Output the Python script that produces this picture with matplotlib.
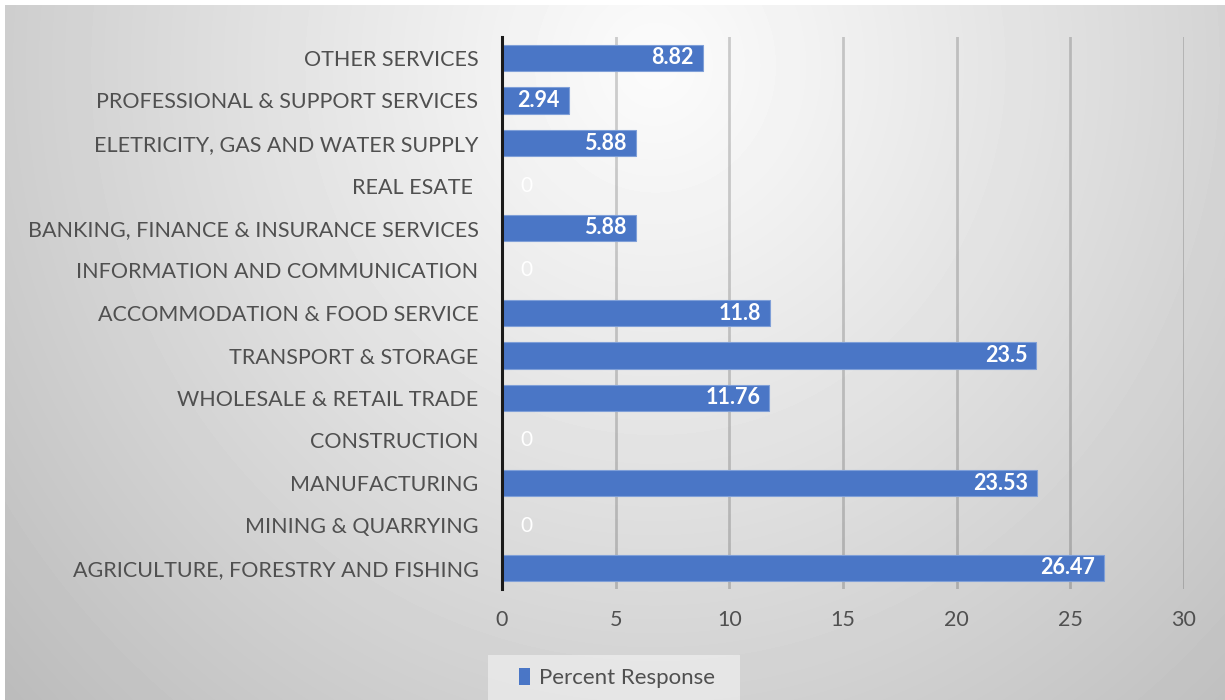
import numpy as np
import matplotlib
matplotlib.use("Agg")
import matplotlib.pyplot as plt
from matplotlib.patches import Rectangle

# sectors listed bottom to top
sectors = [
    "AGRICULTURE, FORESTRY AND FISHING",
    "MINING & QUARRYING",
    "MANUFACTURING",
    "CONSTRUCTION",
    "WHOLESALE & RETAIL TRADE",
    "TRANSPORT & STORAGE",
    "ACCOMMODATION & FOOD SERVICE",
    "INFORMATION AND COMMUNICATION",
    "BANKING, FINANCE & INSURANCE SERVICES",
    "REAL ESATE ",
    "ELETRICITY, GAS AND WATER SUPPLY",
    "PROFESSIONAL & SUPPORT SERVICES",
    "OTHER SERVICES",
]
percent = [26.47, 0, 23.53, 0, 11.76, 23.5, 11.8, 0, 5.88, 0, 5.88, 2.94, 8.82]
x_ticks = [0, 5, 10, 15, 20, 25, 30]

plt.rcParams["font.family"] = ["Lato", "DejaVu Sans"]
text_grey = "#505050"
bar_blue = "#4a76c6"

W, H = 1225, 700
fig = plt.figure(figsize=(W / 100, H / 100), dpi=100)
fig.patch.set_facecolor("white")

# soft radial grey background behind the chart area
bg = fig.add_axes([5 / W, 0, 1 - 5 / W, 1 - 5 / H], zorder=0)
yy, xx = np.mgrid[0:695, 0:1220]
d = np.sqrt(((xx - 650) / 720.0) ** 2 + ((yy - 60) / 760.0) ** 2)
shade = 0.985 - 0.20 * np.clip(d, 0, 1.3) ** 1.1
bg.imshow(shade, cmap="gray", vmin=0, vmax=1, aspect="auto", interpolation="bilinear")
bg.axis("off")

ax = fig.add_axes([502 / W, 1 - 589.25 / H, (1184 - 502) / W, (589.25 - 36.75) / H], zorder=1)
ax.patch.set_alpha(0)

y = np.arange(len(sectors))
ax.barh(y, percent, height=0.62, color=bar_blue, edgecolor="#7f9fd8", linewidth=0.8, zorder=3)

ax.set_xlim(0, 30)
ax.set_ylim(-0.5, len(sectors) - 0.5)
ax.set_xticks(x_ticks)
ax.set_xticklabels([str(t) for t in x_ticks])
ax.set_yticks(y)
ax.set_yticklabels(sectors)
ax.tick_params(axis="both", length=0, colors=text_grey, labelsize=15.5)
ax.tick_params(axis="y", pad=17)
ax.tick_params(axis="x", pad=15)
ax.xaxis.grid(True, color="black", alpha=0.18, linewidth=2, zorder=0)
ax.set_axisbelow(True)
for side in ["top", "right", "bottom"]:
    ax.spines[side].set_visible(False)
ax.spines["left"].set_color("#1a1a1a")
ax.spines["left"].set_linewidth(2.2)
ax.spines["left"].set_zorder(4)

# value labels inside the bar ends
for yi, v in zip(y, percent):
    if v == 0:
        ax.annotate("0", (0, yi), xytext=(13, 0), textcoords="offset points",
                    ha="left", va="center", color="white", fontsize=15, zorder=5)
    else:
        ax.annotate(f"{v:g}", (v, yi), xytext=(-6.5, 0), textcoords="offset points",
                    ha="right", va="center", color="white", fontsize=15.5,
                    fontweight="bold", zorder=5)

# legend in its pale box at the bottom
fig.patches.append(Rectangle((488 / W, 0), 252 / W, 45 / H, transform=fig.transFigure,
                             facecolor="white", alpha=0.45, edgecolor="none", zorder=1))
handle = Rectangle((0, 0), 1, 1, facecolor=bar_blue)
fig.legend([handle], ["Percent Response"], loc="center left",
           bbox_to_anchor=(499 / W, 1 - 678 / H), frameon=False,
           handlelength=0.5, handleheight=0.8, handletextpad=0.4,
           fontsize=16, labelcolor=text_grey)

fig.savefig("out.png", dpi=100)
